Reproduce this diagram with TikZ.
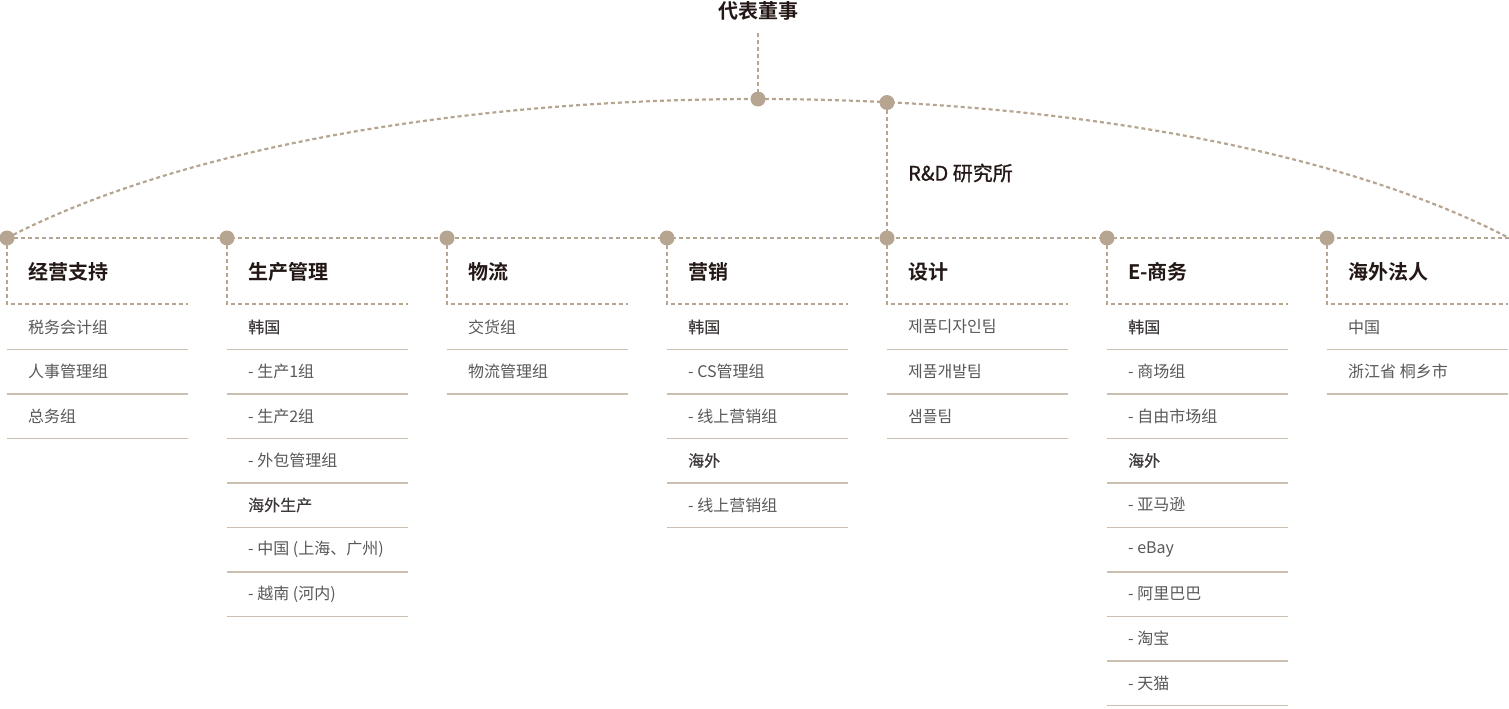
\documentclass[tikz,border=0pt]{standalone}
\usepackage{fontspec}
\setmainfont{Noto Sans CJK SC}
\newfontfamily\cjkreg{Noto Sans CJK SC}
\newfontfamily\cjkmed[FakeBold=0.35]{Noto Sans CJK SC}
\newfontfamily\cjkrd[FakeBold=0.9]{Noto Sans CJK SC}
\newfontfamily\cjkbold{Noto Sans CJK SC Bold}
\definecolor{tan}{HTML}{B5A591}
\definecolor{sepline}{HTML}{CBBFB1}
\definecolor{headtxt}{HTML}{231815}
\definecolor{itemtxt}{HTML}{595757}
\definecolor{medtxt}{HTML}{3E3A39}
\tikzset{
  dashline/.style={draw=tan, line width=2.2pt, dash pattern=on 4pt off 3pt},
  sepl/.style={draw=sepline, line width=1.5pt},
  dotnode/.style={circle, fill=tan, minimum size=15pt, inner sep=0pt},
  headtext/.style={anchor=west, inner sep=0pt, text=headtxt, font=\cjkbold\fontsize{20}{24}\selectfont},
  toptext/.style={inner sep=0pt, text=headtxt, font=\cjkbold\fontsize{20}{24}\selectfont},
  itemtext/.style={anchor=west, inner sep=0pt, text=itemtxt, font=\cjkreg\fontsize{16}{20}\selectfont},
  medtext/.style={anchor=west, inner sep=0pt, text=medtxt, font=\cjkmed\fontsize{16}{20}\selectfont},
  rdtext/.style={anchor=west, inner sep=0pt, text=headtxt, font=\cjkrd\fontsize{20}{24}\selectfont},
}
\begin{document}
\begin{tikzpicture}[x=1pt,y=-1pt]
\useasboundingbox (0,0) rectangle (1509,709);
% key coordinates
\coordinate (pc1) at (7,238);
\coordinate (pc2) at (227,238);
\coordinate (pc3) at (447,238);
\coordinate (pc4) at (667,238);
\coordinate (pc5) at (887,238);
\coordinate (pc6) at (1107,238);
\coordinate (pc7) at (1327,238);
\coordinate (rend) at (1509,238);
\coordinate (ptop) at (758,99);
\coordinate (prd) at (887,102.5);
\coordinate (ceoline) at (758,33);
% top
\node[toptext] (ceo) at (758,11) {代表董事};
\draw[dashline] (ceoline) -- (ptop);
% arc
\draw[dashline] (pc1) .. controls (363,52.7) and (1153,52.7) .. (rend);
% R&D
\draw[dashline] (prd) -- (pc5);
\node[rdtext] (rd) at (908,173) {R\&D 研究所};
% main horizontal line
\draw[dashline] (pc1) -- (rend);
% column boxes
\foreach \i/\x in {1/7,2/227,3/447,4/667,5/887,6/1107,7/1327}{
  \coordinate (bl\i) at (\x,304);
  \coordinate (br\i) at (\x+181,304);
  \draw[dashline] (pc\i) -- (bl\i) -- (br\i);
}
% dots
\foreach \i in {1,...,7}{ \node[dotnode] (d\i) at (pc\i) {}; }
\node[dotnode] (dtop) at (ptop) {};
\node[dotnode] (drd) at (prd) {};
% headers
\node[headtext] (h1) at (28,272) {经营支持};
\node[headtext] (h2) at (248,272) {生产管理};
\node[headtext] (h3) at (468,272) {物流};
\node[headtext] (h4) at (688,272) {营销};
\node[headtext] (h5) at (908,272) {设计};
\node[headtext] (h6) at (1128,272) {E-商务};
\node[headtext] (h7) at (1348,272) {海外法人};
% separators: column x / count
\foreach \x/\n in {7/3,227/7,447/2,667/5,887/3,1107/9,1327/2}{
  \foreach \k in {1,...,\n}{
    \draw[sepl] (\x,349.5+44.5*\k-44.5) -- (\x+181,349.5+44.5*\k-44.5);
  }
}
% column 1
\node[itemtext] (a11) at (28,327) {税务会计组};
\node[itemtext] (a12) at (28,371.5) {人事管理组};
\node[itemtext] (a13) at (28,416) {总务组};
% column 2
\node[medtext] (a21) at (248,327) {韩国};
\node[itemtext] (a22) at (248,371.5) {- 生产1组};
\node[itemtext] (a23) at (248,416) {- 生产2组};
\node[itemtext] (a24) at (248,460.5) {- 外包管理组};
\node[medtext] (a25) at (248,505) {海外生产};
\node[itemtext] (a26) at (248,549.5) {- 中国 (上海、广州)};
\node[itemtext] (a27) at (248,594) {- 越南 (河内)};
% column 3
\node[itemtext] (a31) at (468,327) {交货组};
\node[itemtext] (a32) at (468,371.5) {物流管理组};
% column 4
\node[medtext] (a41) at (688,327) {韩国};
\node[itemtext] (a42) at (688,371.5) {- CS管理组};
\node[itemtext] (a43) at (688,416) {- 线上营销组};
\node[medtext] (a44) at (688,460.5) {海外};
\node[itemtext] (a45) at (688,505) {- 线上营销组};
% column 5
\node[itemtext] (a51) at (908,327) {제품디자인팀};
\node[itemtext] (a52) at (908,371.5) {제품개발팀};
\node[itemtext] (a53) at (908,416) {샘플팀};
% column 6
\node[medtext] (a61) at (1128,327) {韩国};
\node[itemtext] (a62) at (1128,371.5) {- 商场组};
\node[itemtext] (a63) at (1128,416) {- 自由市场组};
\node[medtext] (a64) at (1128,460.5) {海外};
\node[itemtext] (a65) at (1128,505) {- 亚马逊};
\node[itemtext] (a66) at (1128,549.5) {- eBay};
\node[itemtext] (a67) at (1128,594) {- 阿里巴巴};
\node[itemtext] (a68) at (1128,638.5) {- 淘宝};
\node[itemtext] (a69) at (1128,683) {- 天猫};
% column 7
\node[itemtext] (a71) at (1348,327) {中国};
\node[itemtext] (a72) at (1348,371.5) {浙江省 桐乡市};
\end{tikzpicture}
\end{document}
